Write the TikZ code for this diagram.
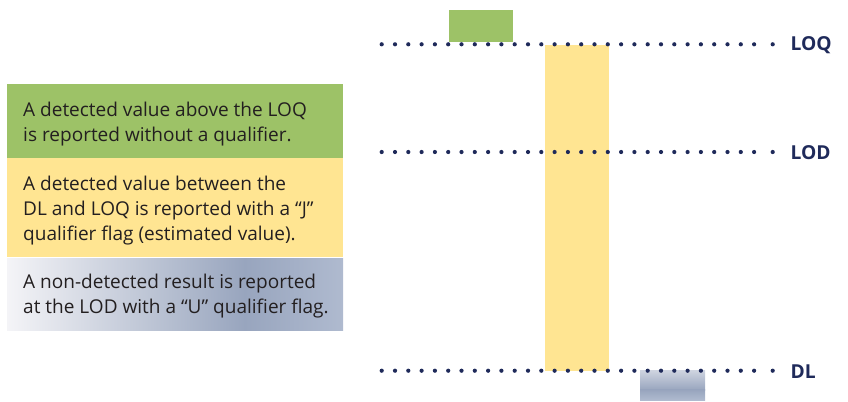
\documentclass[tikz,border=0pt]{standalone}
\usepackage{fontspec}
\setmainfont{Open Sans}
\definecolor{navy}{HTML}{1F2A5A}
\definecolor{lgreen}{HTML}{9DC267}
\definecolor{lyellow}{HTML}{FFE592}
\definecolor{gmid}{HTML}{98A5BE}
\definecolor{gleft}{HTML}{F4F4F7}
\definecolor{gright}{HTML}{AFBACF}
\definecolor{txt}{HTML}{231F20}
\tikzset{
  lvl/.style={font=\fontsize{19.3}{20}\selectfont\bfseries, text=navy, anchor=west, inner sep=0pt},
  body/.style={font=\fontsize{19.1}{25}\selectfont, text=txt, anchor=base west, align=left, inner sep=0pt},
}
\begin{document}
\begin{tikzpicture}[x=1bp,y=-1bp]
\useasboundingbox (0,0) rectangle (848,401);
% left boxes
\fill[lgreen] (7,84) rectangle (343,158);
\fill[lyellow] (7,158) rectangle (343,257);
\shade[left color=gleft, right color=gmid] (7,258) rectangle (245,330);
\shade[left color=gmid, right color=gright] (244.5,258) rectangle (343,330);
\node[body] (t1) at (23,141.7) {A detected value above the LOQ\\is reported without a qualifier.};
\node[body] (t2) at (23,240) {A detected value between the\\DL and LOQ is reported with a “J”\\qualifier flag (estimated value).};
\node[body] (t3) at (23,313) {A non-detected result is reported\\at the LOD with a “U” qualifier flag.};
% bars
\fill[lgreen] (449,10) rectangle (513,41.7);
\fill[lyellow] (545,45) rectangle (609,370.7);
\shade[top color=gleft!60!gmid, bottom color=gmid] (640,370) rectangle (705,390);
\shade[top color=gmid, bottom color=gright] (640,389.8) rectangle (705,400);
% dotted levels
\foreach \yy in {44.3,152,370.7}{
  \foreach \i in {0,...,28}{
    \fill[navy] (381.7+13.3*\i,\yy) circle (2.1);
  }
  \fill[navy] (772.7,\yy) circle (2.1);
}
\node[lvl] (loq) at (790.5,44.8) {LOQ};
\node[lvl] (lod) at (790.5,152.5) {LOD};
\node[lvl] (dl) at (790.5,371.2) {DL};
\end{tikzpicture}
\end{document}
